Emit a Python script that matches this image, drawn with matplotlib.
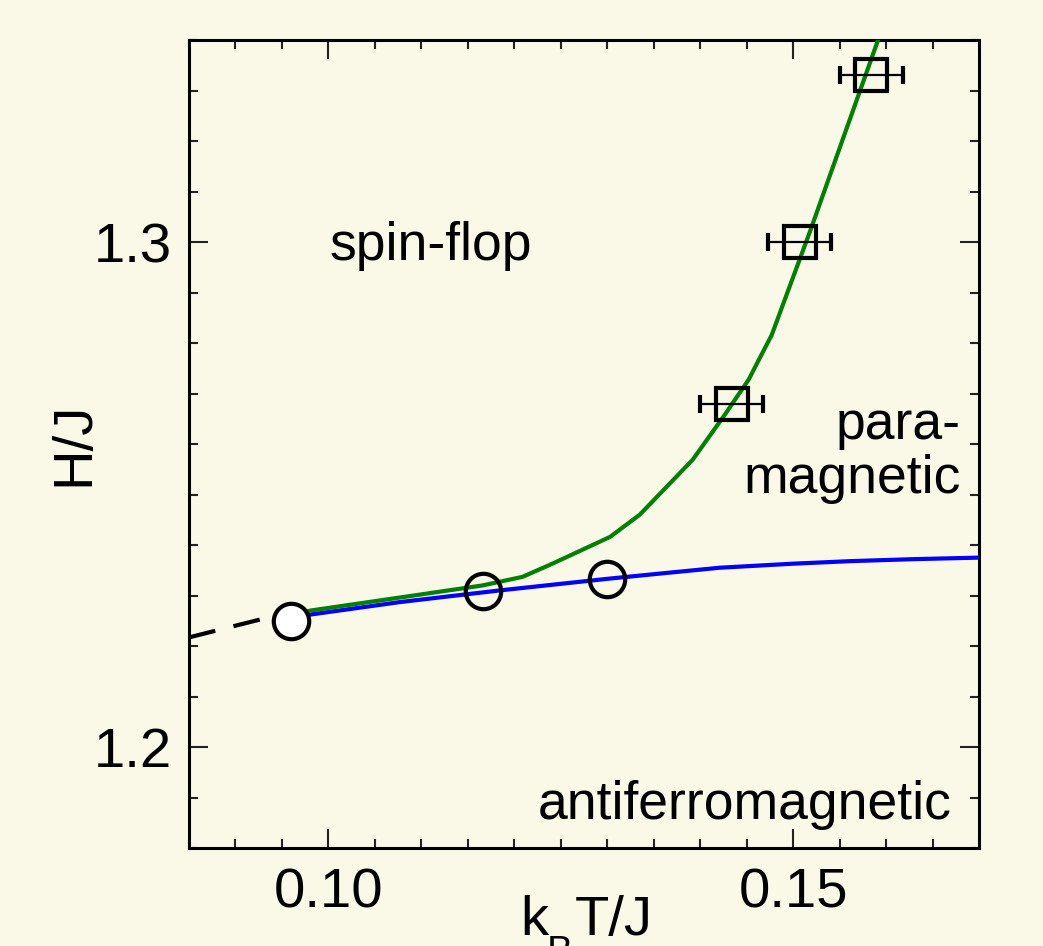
import matplotlib
matplotlib.use("Agg")
import matplotlib.pyplot as plt
from matplotlib.ticker import MultipleLocator, FormatStrFormatter

plt.rcParams['font.family'] = ['Liberation Sans', 'DejaVu Sans']

BG = '#FAF9E8'

# spin-flop / paramagnetic boundary (green)
sf_T = [0.0960, 0.0980, 0.1077, 0.1166, 0.1209, 0.1241, 0.1303, 0.1335,
        0.1392, 0.1425, 0.1452, 0.1477, 0.1518, 0.1591]
sf_H = [1.2258, 1.2270, 1.2296, 1.2320, 1.2337, 1.2363, 1.2416, 1.2460,
        1.2569, 1.2654, 1.2727, 1.2816, 1.3020, 1.3398]

# antiferromagnetic boundary (blue)
af_T = [0.0960, 0.1077, 0.1184, 0.1300, 0.1360, 0.1421, 0.1500, 0.1561, 0.1630, 0.1700]
af_H = [1.2257, 1.2287, 1.2310, 1.2333, 1.2344, 1.2355, 1.2363, 1.2368, 1.2372, 1.2375]

# extrapolation towards lower temperature (dashed)
ext_T = [0.0850, 0.0960]
ext_H = [1.2217, 1.2268]

# bicritical point and multicritical estimates
bc_T, bc_H = [0.0960], [1.2250]
mc_T = [0.1166, 0.1300]
mc_H = [1.2308, 1.2333]

# simulation points with errors
sq_T = [0.1434, 0.1507, 0.1584]
sq_H = [1.2680, 1.3000, 1.3331]
sq_dT = [0.0034, 0.0034, 0.0034]

W, H = 1043, 946
fig = plt.figure(figsize=(W / 100, H / 100), dpi=100, facecolor=BG)
ax = fig.add_axes([189 / W, 1 - 848 / H, (979 - 189) / W, (848 - 40) / H])
ax.set_facecolor(BG)

ax.plot(ext_T, ext_H, color='black', lw=3.0, dashes=(6.5, 4.5), solid_capstyle='butt', zorder=2)
ax.plot(af_T, af_H, color='#0000FF', lw=3.0, zorder=3)
ax.plot(sf_T, sf_H, color='#008000', lw=3.0, zorder=3)

ax.plot(mc_T, mc_H, 'o', ms=25.5, mfc='none', mec='black', mew=3.0, zorder=5)
ax.plot(bc_T, bc_H, 'o', ms=25.5, mfc='white', mec='black', mew=3.0, zorder=6)

ax.errorbar(sq_T, sq_H, xerr=sq_dT, fmt='s', ms=23.5, mfc='none', mec='black',
            mew=3.0, ecolor='black', elinewidth=1.6, capsize=6.8, capthick=1.6, zorder=5)

ax.set_xlim(0.085, 0.170)
ax.set_ylim(1.18, 1.34)

ax.xaxis.set_major_locator(MultipleLocator(0.05))
ax.xaxis.set_minor_locator(MultipleLocator(0.005))
ax.yaxis.set_major_locator(MultipleLocator(0.1))
ax.yaxis.set_minor_locator(MultipleLocator(0.01))
ax.xaxis.set_major_formatter(FormatStrFormatter('%.2f'))
ax.yaxis.set_major_formatter(FormatStrFormatter('%.1f'))

for s in ax.spines.values():
    s.set_linewidth(2.2)
ax.tick_params(which='both', direction='in', top=True, right=True, width=1.5, color='#222222')
ax.tick_params(which='major', length=13.5, labelsize=40.5)
ax.tick_params(axis='x', which='major', pad=14)
ax.tick_params(axis='y', which='major', pad=12)
ax.tick_params(which='minor', length=6.5)

ax.set_ylabel('H/J', fontsize=40.5)
ax.yaxis.set_label_coords(-0.1126, 0.5)

# x-axis label k_B T/J, built from pieces so the subscript sits low
fig.text(520 / W, 1 - 935 / H, 'k', fontsize=40.5, ha='left', va='baseline')
fig.text(547 / W, 1 - 963 / H, 'B', fontsize=28, ha='left', va='baseline')
fig.text(575 / W, 1 - 935 / H, 'T/J', fontsize=40.5, ha='left', va='baseline')

ax.text(0.1001, 1.2964, 'spin-flop', fontsize=38.5, ha='left', va='baseline')
ax.text(0.1680, 1.2610, 'para-', fontsize=38.5, ha='right', va='baseline')
ax.text(0.1680, 1.2503, 'magnetic', fontsize=38.5, ha='right', va='baseline')
ax.text(0.1671, 1.1857, 'antiferromagnetic', fontsize=38.5, ha='right', va='baseline')

fig.savefig('out.png', dpi=100, facecolor=BG)
